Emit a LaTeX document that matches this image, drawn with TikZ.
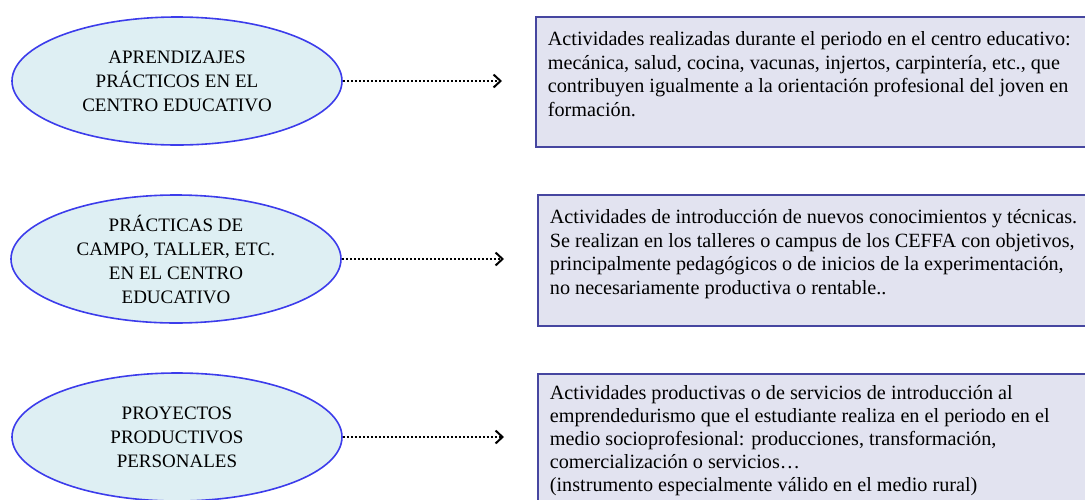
\documentclass[tikz,border=0pt]{standalone}
\usepackage{fontspec}
\setmainfont{Liberation Serif}
\usetikzlibrary{arrows.meta,positioning,shapes.geometric}

\definecolor{elipsefill}{RGB}{222,239,243}
\definecolor{elipseedge}{RGB}{60,60,235}
\definecolor{cajafill}{RGB}{226,227,240}
\definecolor{cajaedge}{RGB}{70,70,160}

\tikzset{
  etapa/.style={ellipse, draw=elipseedge, line width=1.6pt, fill=elipsefill,
    minimum width=330pt, minimum height=128pt, inner sep=0pt, align=center,
    font=\fontsize{19}{24}\selectfont},
  caja/.style={draw=cajaedge, line width=1.8pt, fill=cajafill, anchor=north west,
    inner xsep=12pt, inner ysep=15pt, font=\fontsize{20.2}{23.5}\selectfont},
  flecha/.style={dotted, line width=2pt, -{Straight Barb[length=7pt,width=13pt,line width=2pt]}, shorten >=33pt}
}
\newcommand{\cajatexto}[2]{\parbox[t][#1][t]{560pt}{\raggedright #2}}

\begin{document}
\begin{tikzpicture}[x=1pt,y=-1pt]
    \useasboundingbox (0,0) rectangle (1085,499);
    \clip (0,0) rectangle (1085,499);

    % Ellipses (left)
    \node[etapa] (ap) at (177,81) {APRENDIZAJES\\PRÁCTICOS EN EL\\CENTRO EDUCATIVO};
    \node[etapa] (pc) at (176,259) {PRÁCTICAS DE\\CAMPO, TALLER, ETC.\\EN EL CENTRO\\EDUCATIVO};
    \node[etapa] (pp) at (177,437) {PROYECTOS\\PRODUCTIVOS\\PERSONALES};

    % Boxes (right)
    \node[caja] (act1) at (535,16) {\cajatexto{100pt}{Actividades realizadas durante el periodo en el centro educativo:\\
      mecánica, salud, cocina, vacunas, injertos, carpintería, etc., que\\
      contribuyen igualmente a la orientación profesional del joven en\\
      formación.}};
    \node[caja] (act2) at (537,194) {\cajatexto{101pt}{Actividades de introducción de nuevos conocimientos y técnicas.\\
      Se realizan en los talleres o campus de los CEFFA con objetivos,\\
      principalmente pedagógicos o de inicios de la experimentación,\\
      no necesariamente productiva o rentable..}};
    \node[caja, inner ysep=12pt, font=\fontsize{20.2}{22.8}\selectfont] (act3) at (537,373) {\cajatexto{108pt}{Actividades productivas o de servicios de introducción al\\
      emprendedurismo que el estudiante realiza en el periodo en el\\
      medio socioprofesional: producciones, transformación,\\
      comercialización o servicios…\\
      (instrumento especialmente válido en el medio rural)}};

    % Connectors
    \draw[flecha] (ap.east) -- (ap.east -| act1.west);
    \draw[flecha] (pc.east) -- (pc.east -| act2.west);
    \draw[flecha] (pp.east) -- (pp.east -| act3.west);
\end{tikzpicture}
\end{document}
